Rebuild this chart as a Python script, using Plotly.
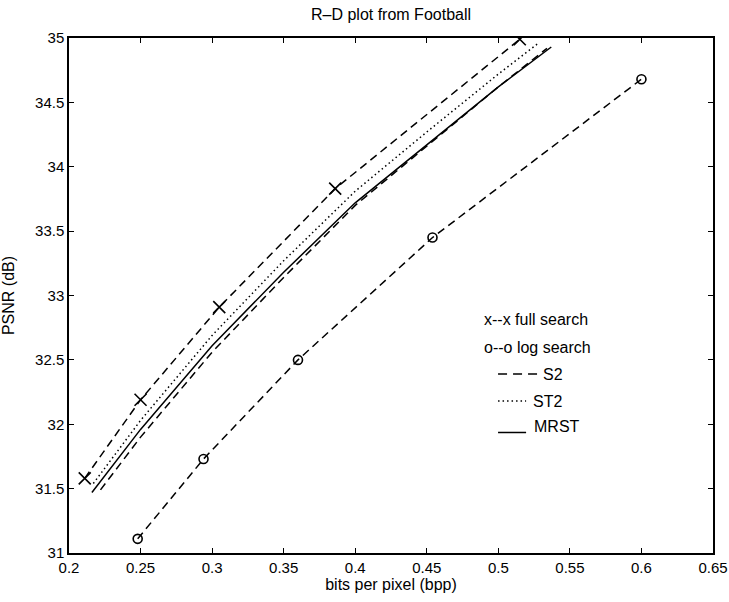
import plotly.graph_objects as go

# ---- data ----
full_x = [0.211, 0.250, 0.305, 0.386, 0.515]
full_y = [31.58, 32.19, 32.91, 33.83, 34.99]

log_x = [0.248, 0.294, 0.360, 0.454, 0.600]
log_y = [31.11, 31.73, 32.50, 33.45, 34.68]

mrst_x = [0.216, 0.250, 0.300, 0.350, 0.400, 0.450, 0.500, 0.537]
mrst_y = [31.47, 31.96, 32.61, 33.18, 33.72, 34.17, 34.62, 34.93]

st2_x = [0.217, 0.250, 0.300, 0.350, 0.400, 0.450, 0.500, 0.528]
st2_y = [31.54, 32.03, 32.69, 33.27, 33.81, 34.27, 34.72, 34.96]

s2_x = [0.222, 0.250, 0.300, 0.350, 0.400, 0.450, 0.500, 0.534]
s2_y = [31.49, 31.90, 32.56, 33.14, 33.70, 34.16, 34.62, 34.92]

x_ticks = [0.2, 0.25, 0.3, 0.35, 0.4, 0.45, 0.5, 0.55, 0.6, 0.65]
y_ticks = [31, 31.5, 32, 32.5, 33, 33.5, 34, 34.5, 35]

legend_labels = ["x--x full search", "o--o log search", "S2", "ST2", "MRST"]

FONT = "Liberation Sans, Arial, Helvetica, sans-serif"
FS = 16
TFS = 15
LW = 1.5
DASH = "8px,5px"
DOT = "1.5px,3px"

fig = go.Figure()

fig.add_trace(go.Scatter(x=full_x, y=full_y, mode="lines+markers",
                         line=dict(color="black", width=LW, dash=DASH),
                         marker=dict(symbol="x-thin-open", size=12, color="black",
                                     line=dict(width=1.6, color="black")),
                         name="full search"))
fig.add_trace(go.Scatter(x=log_x, y=log_y, mode="lines+markers",
                         line=dict(color="black", width=LW, dash=DASH),
                         marker=dict(symbol="circle-open", size=9, color="black",
                                     line=dict(width=1.6, color="black")),
                         name="log search"))
fig.add_trace(go.Scatter(x=s2_x, y=s2_y, mode="lines",
                         line=dict(color="black", width=LW, dash=DASH),
                         name="S2"))
fig.add_trace(go.Scatter(x=st2_x, y=st2_y, mode="lines",
                         line=dict(color="black", width=LW, dash=DOT),
                         name="ST2"))
fig.add_trace(go.Scatter(x=mrst_x, y=mrst_y, mode="lines",
                         line=dict(color="black", width=LW),
                         name="MRST"))

# ---- legend drawn as text + line samples (layout positions in data units) ----
leg_y = [32.81, 32.60, 32.39, 32.18, 31.98]
leg_style = [None, None, ("9px,6px", 0.4998, 0.5277, 0.5298, 0.0),
             (DOT, 0.4998, 0.5194, 0.5229, 0.0),
             ("solid", 0.4998, 0.5194, 0.5236, -0.044)]
for label, yy, st in zip(legend_labels, leg_y, leg_style):
    if st is None:
        fig.add_annotation(x=0.4886, y=yy, xref="x", yref="y", text=label,
                           showarrow=False, xanchor="left", yanchor="middle",
                           font=dict(family=FONT, size=FS, color="black"))
    else:
        dash, x0, x1, tx, dy = st
        fig.add_shape(type="line", x0=x0, x1=x1, y0=yy + dy, y1=yy + dy,
                      xref="x", yref="y",
                      line=dict(color="black", width=LW, dash=dash))
        fig.add_annotation(x=tx, y=yy, xref="x", yref="y", text=label,
                           showarrow=False, xanchor="left", yanchor="middle",
                           font=dict(family=FONT, size=FS, color="black"))

axis_common = dict(showgrid=False, zeroline=False, showline=True, linecolor="black",
                   linewidth=1.5, mirror="ticks", ticks="inside", ticklen=5,
                   tickcolor="black", tickwidth=1.2, automargin=False,
                   tickfont=dict(family=FONT, size=TFS, color="black"))

fig.update_xaxes(range=[0.2, 0.65], tickvals=x_ticks,
                 ticktext=[f"{v:g}" for v in x_ticks],
                 title=dict(text="bits per pixel (bpp)", standoff=2,
                            font=dict(family=FONT, size=FS, color="black")),
                 **axis_common)
fig.update_yaxes(range=[31, 35], tickvals=y_ticks,
                 ticktext=[f"{v:g}" for v in y_ticks],
                 title=dict(text="PSNR (dB)", standoff=16,
                            font=dict(family=FONT, size=FS, color="black")),
                 **axis_common)

fig.update_layout(
    width=729, height=602,
    margin=dict(l=69, r=16, t=38, b=49),
    paper_bgcolor="white", plot_bgcolor="white",
    showlegend=False,
    title=dict(text="R\u2013D plot from Football", x=391 / 729,
               xanchor="center", y=1 - 14 / 602, yanchor="middle",
               font=dict(family=FONT, size=FS, color="black")),
)

fig.write_html("out.html",
               config={"displayModeBar": False},
               post_script="document.body.style.margin='0';"
                           "document.body.style.overflow='hidden';")
